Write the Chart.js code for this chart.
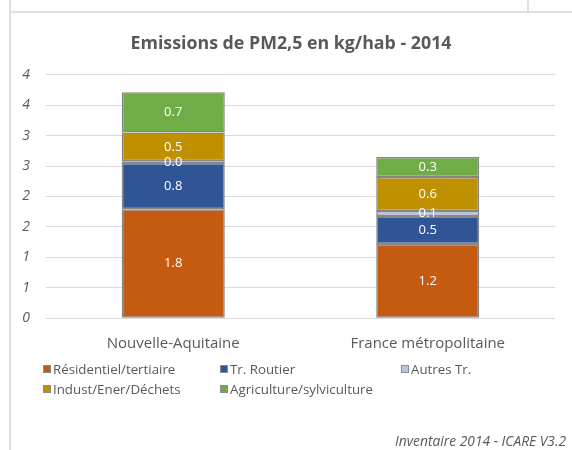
<!DOCTYPE html>
<html>
<head>
<meta charset="utf-8">
<script src="https://cdn.jsdelivr.net/npm/chart.js@4.4.1/dist/chart.umd.min.js"></script>
<style>
  html, body { margin: 0; padding: 0; background: #fff; }
  body { width: 572px; height: 450px; position: relative; overflow: hidden; font-family: "Open Sans", sans-serif; color: #595959; }
  .rule { position: absolute; background: #e0e0e0; }
  #chart { position: absolute; left: 0; top: 0; }
  #title { position: absolute; left: 10px; width: 562px; top: 30px; line-height: 24px; text-align: center; font-size: 17.8px; font-weight: bold; }
  .legend-item { position: absolute; font-size: 13.3px; line-height: 16px; white-space: nowrap; }
  .legend-item i { position: absolute; left: -10px; top: 4px; width: 6px; height: 6px; border: 1px solid #8c8c8c; }
  #source { position: absolute; right: 6px; top: 431px; font-size: 13.8px; font-style: italic; }
</style>
</head>
<body>
<div class="rule" style="left:9px;top:0;width:2px;height:450px"></div>
<div class="rule" style="left:9px;top:11px;width:563px;height:2px"></div>
<div class="rule" style="left:527px;top:0;width:2px;height:12px"></div>
<canvas id="chart" width="572" height="450"></canvas>
<div id="title">Emissions de PM2,5 en kg/hab - 2014</div>
<div id="legend"></div>
<div id="source">Inventaire 2014 - ICARE V3.2</div>
<script>
const categories = ['Nouvelle-Aquitaine', 'France métropolitaine'];
const sectors = ['Résidentiel/tertiaire', 'Tr. Routier', 'Autres Tr.', 'Indust/Ener/Déchets', 'Agriculture/sylviculture'];
const residentiel = [1.79, 1.22];
const routier = [0.76, 0.46];
const autresTr = [0.03, 0.08];
const industrie = [0.47, 0.56];
const agriculture = [0.66, 0.33];
const sectorColors = ['#C55A11', '#2F5597', '#B4C7E7', '#BF9000', '#70AD47'];
const yTickLabels = ['0', '1', '1', '2', '2', '3', '3', '4', '4'];

const FONT = '"Open Sans"';
const series = [residentiel, routier, autresTr, industrie, agriculture];

// white value labels centred in each stacked segment
const segmentLabels = {
  id: 'segmentLabels',
  afterDatasetsDraw(chart) {
    const ctx = chart.ctx;
    ctx.save();
    ctx.font = '13px ' + FONT;
    ctx.fillStyle = '#ffffff';
    ctx.textAlign = 'center';
    ctx.textBaseline = 'middle';
    chart.data.datasets.forEach((ds, i) => {
      chart.getDatasetMeta(i).data.forEach((bar, j) => {
        const c = bar.getCenterPoint();
        ctx.fillText(ds.data[j].toFixed(1), c.x, c.y);
      });
    });
    ctx.restore();
  }
};

new Chart(document.getElementById('chart'), {
  type: 'bar',
  data: {
    labels: categories,
    datasets: sectors.map((name, i) => ({
      label: name,
      data: series[i],
      backgroundColor: sectorColors[i],
      borderColor: '#878787',
      borderWidth: 1.5,
      borderSkipped: false,
      categoryPercentage: 1,
      barPercentage: 0.405
    }))
  },
  options: {
    responsive: false,
    animation: false,
    devicePixelRatio: 1,
    layout: { padding: { top: 74.7, left: 10, right: 17, bottom: 91.7 } },
    plugins: {
      legend: { display: false },
      tooltip: { enabled: false },
      title: { display: false }
    },
    scales: {
      x: {
        stacked: true,
        grid: { display: false },
        border: { display: false },
        ticks: { color: '#595959', font: { family: FONT, size: 15 }, padding: 8 },
        afterFit(scale) { scale.height = 40; }
      },
      y: {
        stacked: true,
        min: 0,
        max: 4,
        border: { display: false },
        grid: { color: '#d9d9d9', lineWidth: 1, drawTicks: false },
        ticks: {
          stepSize: 0.5,
          padding: 16,
          color: '#595959',
          font: { family: FONT, size: 14, style: 'italic' },
          callback: (v, i) => yTickLabels[i]
        },
        afterFit(scale) { scale.width = 36; }
      }
    }
  },
  plugins: [segmentLabels]
});

// legend laid out in two rows of three columns
const legendCols = [53, 230, 411];
const legendRows = [361, 381];
const legend = document.getElementById('legend');
sectors.forEach((name, i) => {
  const item = document.createElement('div');
  item.className = 'legend-item';
  item.style.left = legendCols[i % 3] + 'px';
  item.style.top = legendRows[Math.floor(i / 3)] + 'px';
  item.innerHTML = '<i style="background:' + sectorColors[i] + '"></i>' + name;
  legend.appendChild(item);
});
</script>
</body>
</html>
